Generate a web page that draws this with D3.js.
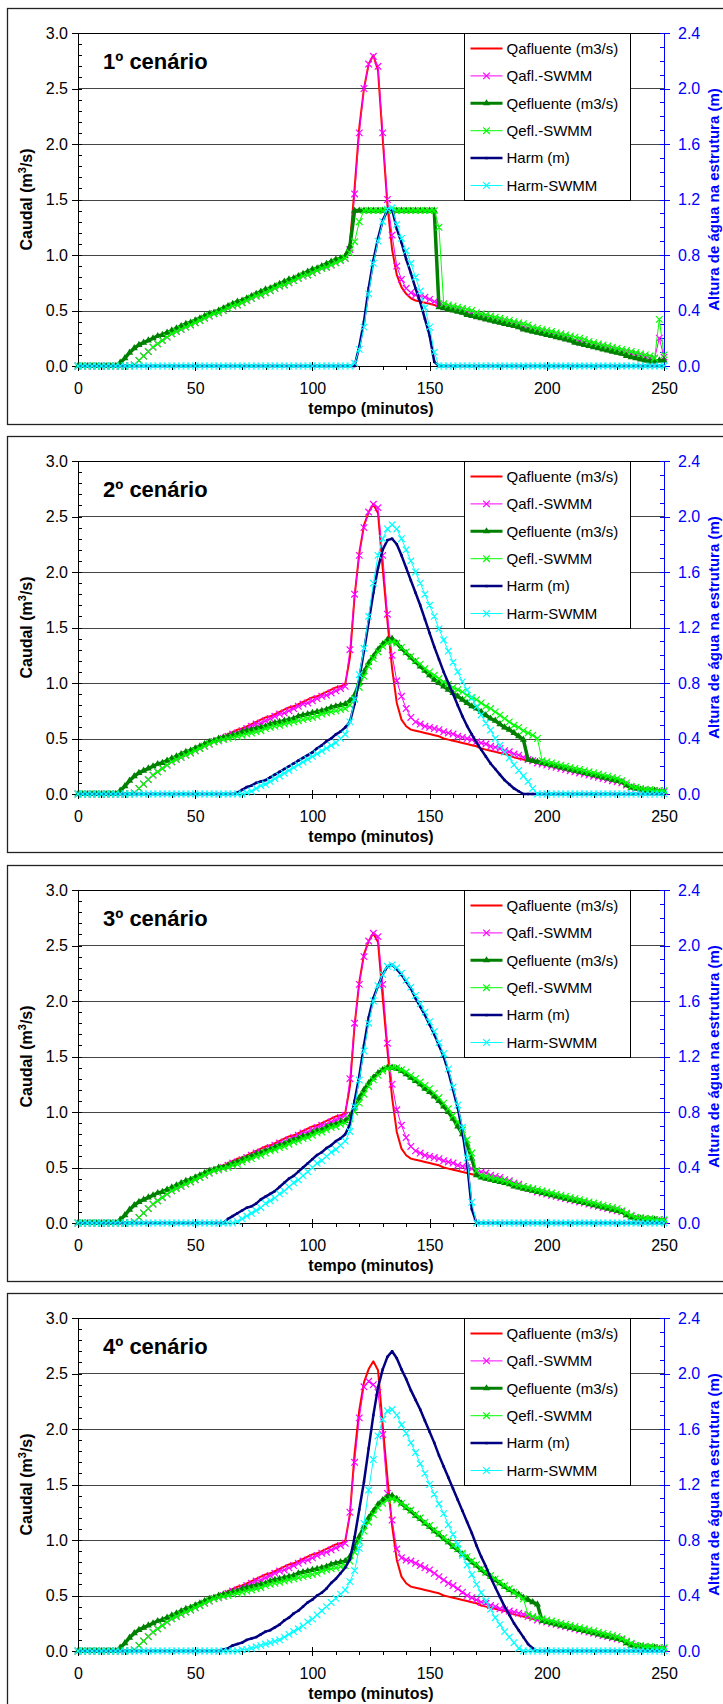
<!DOCTYPE html>
<html>
<head>
<meta charset="utf-8">
<script src="https://cdn.jsdelivr.net/npm/d3@7"></script>
<style>
  body { margin: 0; background: #fff; }
  svg text { font-family: "Liberation Sans", Arial, Helvetica, sans-serif; }
</style>
</head>
<body>
<div id="chart"></div>
<script>
// tempo em minutos (passo de 2 min)
var tempo = [
  0,2,4,6,8,10,12,14,16,18,
  20,22,24,26,28,30,32,34,36,38,
  40,42,44,46,48,50,52,54,56,58,
  60,62,64,66,68,70,72,74,76,78,
  80,82,84,86,88,90,92,94,96,98,
  100,102,104,106,108,110,112,114,116,118,
  120,122,124,126,128,130,132,134,136,138,
  140,142,144,146,148,150,152,154,156,158,
  160,162,164,166,168,170,172,174,176,178,
  180,182,184,186,188,190,192,194,196,198,
  200,202,204,206,208,210,212,214,216,218,
  220,222,224,226,228,230,232,234,236,238,
  240,242,244,246,248,250];

var xTicks = [0, 50, 100, 150, 200, 250];
var qTicks = [0, 0.5, 1.0, 1.5, 2.0, 2.5, 3.0];
var hTicks = [0, 0.4, 0.8, 1.2, 1.6, 2.0, 2.4];

// ramo ascendente comum, t = 0..114
var rampaQ = [
  0,0,0,0,0,0,0,0,0,0.03,
  0.07,0.12,0.16,0.19,0.21,0.23,0.25,0.27,0.28,0.30,
  0.32,0.34,0.36,0.38,0.39,0.41,0.43,0.45,0.47,0.48,
  0.50,0.52,0.54,0.56,0.58,0.59,0.61,0.63,0.65,0.67,
  0.69,0.70,0.72,0.74,0.76,0.78,0.79,0.81,0.83,0.85,
  0.87,0.88,0.90,0.92,0.94,0.96,0.97,0.99];
var rampaS = [
  0,0,0,0,0,0,0,0,0,0,
  0,0,0.01,0.05,0.09,0.13,0.17,0.20,0.23,0.26,
  0.29,0.31,0.33,0.35,0.37,0.39,0.41,0.43,0.45,0.47,
  0.48,0.50,0.52,0.54,0.55,0.57,0.59,0.61,0.63,0.64,
  0.66,0.68,0.70,0.72,0.73,0.75,0.77,0.79,0.81,0.82,
  0.84,0.86,0.88,0.89,0.91,0.93,0.95,0.97];

// t = 116..250
var qaf1Pico = [
  1.10,1.60,
  2.15,2.50,2.72,2.80,2.66,2.05,1.45,1.05,0.82,0.71,
  0.65,0.61,0.59,0.58,0.57,0.56,0.55,0.53,0.52,0.51,
  0.50,0.49,0.48,0.46,0.45,0.44,0.43,0.42,0.41,0.40,
  0.39,0.38,0.37,0.36,0.35,0.33,0.32,0.31,0.30,0.29,
  0.28,0.27,0.26,0.25,0.24,0.23,0.21,0.20,0.19,0.18,
  0.17,0.16,0.15,0.14,0.13,0.12,0.11,0.09,0.08,0.07,
  0.06,0.05,0.04,0.04,0.05,0.05];
var qafS1Pico = [
  1.05,1.55,
  2.10,2.50,2.72,2.79,2.70,2.10,1.50,1.18,0.90,0.78,
  0.70,0.66,0.64,0.63,0.62,0.60,0.58,0.56,0.54,0.53,
  0.52,0.51,0.50,0.48,0.47,0.46,0.45,0.44,0.43,0.42,
  0.41,0.40,0.39,0.38,0.37,0.35,0.34,0.33,0.32,0.31,
  0.30,0.29,0.28,0.27,0.26,0.25,0.23,0.22,0.21,0.20,
  0.19,0.18,0.17,0.16,0.15,0.14,0.13,0.12,0.11,0.10,
  0.09,0.08,0.07,0.07,0.25,0.08];
var qef1Pico = [
  1.08,1.40,
  1.40,1.40,1.40,1.40,1.40,1.40,1.40,1.40,1.40,1.40,
  1.40,1.40,1.40,1.40,1.40,1.40,1.40,0.53,0.52,0.51,
  0.50,0.49,0.48,0.46,0.45,0.44,0.43,0.42,0.41,0.40,
  0.39,0.38,0.37,0.36,0.35,0.33,0.32,0.31,0.30,0.29,
  0.28,0.27,0.26,0.25,0.24,0.23,0.21,0.20,0.19,0.18,
  0.17,0.16,0.15,0.14,0.13,0.12,0.11,0.09,0.08,0.07,
  0.06,0.05,0.04,0.04,0.05,0.05];
var qefS1Pico = [
  1.02,1.12,
  1.30,1.40,1.40,1.40,1.40,1.40,1.40,1.40,1.40,1.40,
  1.40,1.40,1.40,1.40,1.40,1.40,1.40,1.25,0.56,0.55,
  0.54,0.53,0.52,0.51,0.50,0.48,0.47,0.46,0.45,0.44,
  0.43,0.42,0.41,0.40,0.39,0.38,0.37,0.35,0.34,0.33,
  0.32,0.31,0.30,0.29,0.28,0.27,0.26,0.25,0.24,0.22,
  0.21,0.20,0.19,0.18,0.17,0.16,0.15,0.14,0.13,0.12,
  0.11,0.10,0.09,0.07,0.42,0.10];
var harm1 = [
  0,0,0,0,0,0,0,0,0,0,
  0,0,0,0,0,0,0,0,0,0,
  0,0,0,0,0,0,0,0,0,0,
  0,0,0,0,0,0,0,0,0,0,
  0,0,0,0,0,0,0,0,0,0,
  0,0,0,0,0,0,0,0,0,0,
  0.14,0.32,0.56,0.76,0.92,1.05,1.12,1.13,0.99,0.89,
  0.77,0.67,0.56,0.46,0.34,0.22,0.03,0,0,0,
  0,0,0,0,0,0,0,0,0,0,
  0,0,0,0,0,0,0,0,0,0,
  0,0,0,0,0,0,0,0,0,0,
  0,0,0,0,0,0,0,0,0,0,
  0,0,0,0,0,0];
var harmS1 = [
  0,0,0,0,0,0,0,0,0,0,
  0,0,0,0,0,0,0,0,0,0,
  0,0,0,0,0,0,0,0,0,0,
  0,0,0,0,0,0,0,0,0,0,
  0,0,0,0,0,0,0,0,0,0,
  0,0,0,0,0,0,0,0,0,0.02,
  0.12,0.28,0.52,0.74,0.90,1.04,1.13,1.14,1.02,0.92,
  0.83,0.74,0.64,0.54,0.42,0.28,0.10,0,0,0,
  0,0,0,0,0,0,0,0,0,0,
  0,0,0,0,0,0,0,0,0,0,
  0,0,0,0,0,0,0,0,0,0,
  0,0,0,0,0,0,0,0,0,0,
  0,0,0,0,0,0];

// cenarios 2 a 4, afluente t = 116..250
var qafPico = [
  1.23,1.78,
  2.17,2.42,2.54,2.61,2.53,2.03,1.56,1.13,0.82,0.67,
  0.61,0.58,0.57,0.56,0.55,0.54,0.53,0.52,0.50,0.49,
  0.48,0.47,0.46,0.45,0.44,0.43,0.41,0.40,0.39,0.38,
  0.37,0.36,0.35,0.33,0.32,0.31,0.30,0.29,0.28,0.27,
  0.26,0.25,0.24,0.23,0.22,0.21,0.20,0.19,0.18,0.17,
  0.16,0.15,0.14,0.13,0.12,0.11,0.10,0.07,0.05,0.04,
  0.04,0.03,0.03,0.03,0.02,0.02];
var qafSPico = [
  1.30,1.80,
  2.15,2.40,2.54,2.61,2.58,2.15,1.62,1.25,1.02,0.88,
  0.77,0.69,0.65,0.63,0.61,0.60,0.59,0.58,0.56,0.55,
  0.54,0.52,0.51,0.50,0.49,0.47,0.46,0.45,0.43,0.42,
  0.41,0.39,0.38,0.36,0.35,0.33,0.31,0.30,0.28,0.27,
  0.26,0.25,0.24,0.23,0.22,0.21,0.20,0.19,0.18,0.17,
  0.16,0.15,0.14,0.13,0.12,0.11,0.10,0.08,0.06,0.05,
  0.04,0.04,0.03,0.03,0.03,0.02];
var qafS4Pico = [
  1.25,1.70,
  2.10,2.38,2.43,2.40,2.33,1.95,1.42,1.18,0.92,0.84,
  0.82,0.81,0.79,0.77,0.75,0.73,0.70,0.67,0.64,0.61,
  0.59,0.56,0.53,0.50,0.48,0.46,0.44,0.43,0.41,0.40,
  0.38,0.37,0.36,0.35,0.34,0.33,0.31,0.30,0.28,0.27,
  0.26,0.25,0.24,0.23,0.22,0.21,0.20,0.19,0.18,0.17,
  0.16,0.15,0.14,0.13,0.12,0.11,0.10,0.08,0.06,0.05,
  0.04,0.04,0.03,0.03,0.03,0.02];

// efluentes, t = 62..250
var qef2 = [
  0.51,0.52,0.53,0.54,0.56,0.57,0.58,0.59,0.60,
  0.61,0.63,0.64,0.65,0.66,0.67,0.68,0.70,0.71,0.72,
  0.73,0.74,0.75,0.76,0.78,0.79,0.80,0.81,0.84,0.89,
  1.00,1.10,1.18,1.24,1.30,1.35,1.39,1.40,1.36,1.31,
  1.27,1.23,1.19,1.15,1.11,1.07,1.03,1.00,0.97,0.94,
  0.91,0.88,0.85,0.82,0.79,0.77,0.74,0.71,0.68,0.66,
  0.63,0.60,0.58,0.55,0.52,0.49,0.31,0.30,0.29,0.28,
  0.27,0.26,0.25,0.24,0.23,0.22,0.21,0.20,0.19,0.18,
  0.17,0.16,0.15,0.14,0.13,0.12,0.11,0.08,0.06,0.05,
  0.04,0.03,0.03,0.03,0.02,0.02];
var qefS2 = [
  0.49,0.50,0.51,0.52,0.53,0.54,0.55,0.56,0.57,
  0.59,0.60,0.61,0.62,0.63,0.64,0.65,0.66,0.67,0.68,
  0.69,0.70,0.72,0.73,0.74,0.75,0.76,0.77,0.80,0.86,
  0.96,1.06,1.15,1.22,1.28,1.33,1.36,1.37,1.36,1.32,
  1.28,1.24,1.20,1.17,1.13,1.10,1.07,1.04,1.01,0.99,
  0.96,0.94,0.92,0.89,0.87,0.85,0.82,0.79,0.77,0.74,
  0.71,0.68,0.65,0.62,0.60,0.57,0.55,0.53,0.50,0.30,
  0.29,0.28,0.27,0.26,0.25,0.24,0.23,0.22,0.21,0.20,
  0.19,0.18,0.17,0.16,0.15,0.14,0.12,0.10,0.07,0.06,
  0.05,0.04,0.04,0.03,0.03,0.03];
var qef3 = [
  0.50,0.52,0.53,0.55,0.57,0.58,0.60,0.62,0.63,
  0.65,0.66,0.68,0.70,0.71,0.73,0.75,0.76,0.78,0.79,
  0.81,0.83,0.84,0.86,0.88,0.89,0.91,0.92,0.96,1.04,
  1.13,1.20,1.26,1.31,1.35,1.38,1.40,1.40,1.39,1.37,
  1.34,1.31,1.28,1.25,1.21,1.18,1.14,1.10,1.05,1.00,
  0.94,0.87,0.80,0.71,0.58,0.43,0.41,0.40,0.39,0.38,
  0.37,0.36,0.35,0.33,0.32,0.31,0.30,0.29,0.28,0.27,
  0.26,0.25,0.24,0.23,0.22,0.21,0.20,0.19,0.18,0.17,
  0.16,0.15,0.14,0.13,0.12,0.11,0.10,0.07,0.05,0.04,
  0.04,0.03,0.03,0.03,0.02,0.02];
var qefS3 = [
  0.49,0.50,0.52,0.53,0.55,0.57,0.58,0.60,0.61,
  0.63,0.65,0.66,0.68,0.69,0.71,0.73,0.74,0.76,0.77,
  0.79,0.81,0.82,0.84,0.86,0.87,0.89,0.90,0.94,1.00,
  1.08,1.16,1.23,1.29,1.33,1.37,1.39,1.40,1.40,1.38,
  1.36,1.33,1.30,1.27,1.24,1.21,1.17,1.13,1.08,1.03,
  0.97,0.91,0.84,0.75,0.63,0.47,0.43,0.42,0.41,0.40,
  0.39,0.38,0.37,0.35,0.34,0.33,0.32,0.31,0.30,0.29,
  0.28,0.27,0.26,0.25,0.24,0.23,0.22,0.21,0.20,0.19,
  0.18,0.17,0.16,0.15,0.14,0.13,0.11,0.09,0.07,0.05,
  0.05,0.04,0.04,0.03,0.03,0.03];
var qef4 = [
  0.51,0.52,0.53,0.54,0.56,0.57,0.58,0.59,0.60,
  0.61,0.63,0.64,0.65,0.66,0.67,0.68,0.70,0.71,0.72,
  0.73,0.74,0.75,0.76,0.78,0.79,0.80,0.81,0.85,0.93,
  1.03,1.12,1.20,1.26,1.32,1.36,1.39,1.40,1.37,1.33,
  1.29,1.26,1.22,1.19,1.15,1.12,1.08,1.05,1.01,0.98,
  0.94,0.91,0.87,0.84,0.80,0.77,0.73,0.70,0.67,0.64,
  0.61,0.58,0.55,0.53,0.51,0.48,0.46,0.44,0.42,0.27,
  0.26,0.25,0.24,0.23,0.22,0.21,0.20,0.19,0.18,0.17,
  0.16,0.15,0.14,0.13,0.12,0.11,0.10,0.07,0.05,0.04,
  0.04,0.03,0.03,0.03,0.02,0.02];
var qefS4 = [
  0.49,0.50,0.51,0.52,0.53,0.54,0.55,0.56,0.57,
  0.59,0.60,0.61,0.62,0.63,0.64,0.65,0.66,0.67,0.68,
  0.69,0.70,0.72,0.73,0.74,0.75,0.76,0.77,0.81,0.89,
  0.99,1.08,1.16,1.23,1.29,1.33,1.36,1.37,1.36,1.33,
  1.30,1.27,1.23,1.20,1.16,1.13,1.09,1.06,1.02,0.99,
  0.95,0.92,0.88,0.85,0.81,0.78,0.74,0.71,0.68,0.65,
  0.62,0.59,0.56,0.53,0.50,0.47,0.33,0.31,0.30,0.29,
  0.28,0.27,0.26,0.25,0.24,0.23,0.22,0.21,0.20,0.19,
  0.18,0.17,0.16,0.15,0.14,0.13,0.11,0.09,0.07,0.05,
  0.05,0.04,0.04,0.03,0.03,0.03];

// alturas de agua (m), t = 0..250
var harm2 = [
  0,0,0,0,0,0,0,0,0,0,
  0,0,0,0,0,0,0,0,0,0,
  0,0,0,0,0,0,0,0,0,0,
  0,0,0,0,0.01,0.03,0.05,0.06,0.08,0.09,
  0.10,0.12,0.14,0.16,0.18,0.20,0.22,0.24,0.26,0.28,
  0.30,0.33,0.35,0.38,0.40,0.43,0.45,0.48,0.52,0.65,
  0.83,1.03,1.24,1.45,1.63,1.76,1.83,1.84,1.80,1.72,
  1.63,1.54,1.45,1.36,1.26,1.16,1.06,0.97,0.88,0.80,
  0.72,0.64,0.56,0.49,0.43,0.37,0.32,0.27,0.22,0.18,
  0.14,0.10,0.07,0.04,0.02,0,0,0,0,0,
  0,0,0,0,0,0,0,0,0,0,
  0,0,0,0,0,0,0,0,0,0,
  0,0,0,0,0,0];
var harmS2 = [
  0,0,0,0,0,0,0,0,0,0,
  0,0,0,0,0,0,0,0,0,0,
  0,0,0,0,0,0,0,0,0,0,
  0,0,0,0,0,0,0.01,0.02,0.04,0.06,
  0.07,0.09,0.11,0.13,0.15,0.17,0.19,0.21,0.23,0.25,
  0.27,0.29,0.31,0.33,0.35,0.37,0.40,0.43,0.52,0.68,
  0.86,1.05,1.28,1.52,1.72,1.84,1.91,1.94,1.91,1.84,
  1.76,1.68,1.60,1.52,1.44,1.36,1.28,1.19,1.11,1.03,
  0.95,0.88,0.81,0.75,0.69,0.63,0.57,0.51,0.46,0.40,
  0.35,0.30,0.26,0.21,0.17,0.13,0.09,0.04,0,0,
  0,0,0,0,0,0,0,0,0,0,
  0,0,0,0,0,0,0,0,0,0,
  0,0,0,0,0,0];
var harm3 = [
  0,0,0,0,0,0,0,0,0,0,
  0,0,0,0,0,0,0,0,0,0,
  0,0,0,0,0,0,0,0,0,0,
  0,0,0.03,0.05,0.07,0.09,0.11,0.12,0.14,0.17,
  0.19,0.21,0.23,0.26,0.29,0.32,0.34,0.37,0.40,0.43,
  0.46,0.49,0.51,0.54,0.56,0.59,0.61,0.64,0.71,0.88,
  1.06,1.28,1.48,1.62,1.71,1.79,1.85,1.86,1.83,1.79,
  1.74,1.69,1.62,1.56,1.50,1.43,1.36,1.28,1.20,1.09,
  0.96,0.83,0.66,0.43,0.10,0,0,0,0,0,
  0,0,0,0,0,0,0,0,0,0,
  0,0,0,0,0,0,0,0,0,0,
  0,0,0,0,0,0,0,0,0,0,
  0,0,0,0,0,0];
var harmS3 = [
  0,0,0,0,0,0,0,0,0,0,
  0,0,0,0,0,0,0,0,0,0,
  0,0,0,0,0,0,0,0,0,0,
  0,0,0,0,0.01,0.03,0.05,0.07,0.09,0.11,
  0.14,0.16,0.18,0.21,0.23,0.26,0.29,0.31,0.34,0.37,
  0.40,0.43,0.45,0.48,0.51,0.53,0.56,0.59,0.66,0.84,
  1.03,1.24,1.44,1.60,1.71,1.79,1.85,1.86,1.84,1.80,
  1.75,1.70,1.64,1.58,1.52,1.45,1.38,1.30,1.22,1.11,
  0.98,0.85,0.69,0.47,0.15,0,0,0,0,0,
  0,0,0,0,0,0,0,0,0,0,
  0,0,0,0,0,0,0,0,0,0,
  0,0,0,0,0,0,0,0,0,0,
  0,0,0,0,0,0];
var harm4 = [
  0,0,0,0,0,0,0,0,0,0,
  0,0,0,0,0,0,0,0,0,0,
  0,0,0,0,0,0,0,0,0,0,
  0,0.01,0.02,0.04,0.05,0.06,0.08,0.09,0.10,0.12,
  0.14,0.15,0.17,0.19,0.22,0.24,0.27,0.29,0.32,0.35,
  0.37,0.40,0.42,0.45,0.49,0.52,0.56,0.60,0.66,0.82,
  1.02,1.22,1.46,1.70,1.90,2.03,2.12,2.16,2.11,2.03,
  1.96,1.88,1.81,1.74,1.66,1.58,1.50,1.41,1.33,1.25,
  1.17,1.09,1.01,0.93,0.85,0.76,0.68,0.61,0.53,0.46,
  0.39,0.32,0.26,0.20,0.15,0.10,0.05,0.02,0,0,
  0,0,0,0,0,0,0,0,0,0,
  0,0,0,0,0,0,0,0,0,0,
  0,0,0,0,0,0];
var harmS4 = [
  0,0,0,0,0,0,0,0,0,0,
  0,0,0,0,0,0,0,0,0,0,
  0,0,0,0,0,0,0,0,0,0,
  0,0,0,0,0,0.01,0.01,0.02,0.03,0.04,
  0.05,0.06,0.07,0.08,0.10,0.12,0.14,0.16,0.18,0.21,
  0.23,0.26,0.29,0.32,0.35,0.38,0.41,0.44,0.50,0.58,
  0.74,0.92,1.16,1.38,1.55,1.67,1.73,1.74,1.70,1.63,
  1.57,1.50,1.43,1.35,1.28,1.20,1.13,1.06,0.99,0.91,
  0.84,0.77,0.69,0.62,0.55,0.48,0.42,0.36,0.30,0.24,
  0.19,0.14,0.10,0.06,0.02,0,0,0,0,0,
  0,0,0,0,0,0,0,0,0,0,
  0,0,0,0,0,0,0,0,0,0,
  0,0,0,0,0,0];

var cenarios = [
  {titulo: "1º cenário", qaf: rampaQ.concat(qaf1Pico), qafS: rampaS.concat(qafS1Pico),
   qef: rampaQ.concat(qef1Pico), qefS: rampaS.concat(qefS1Pico), h: harm1, hS: harmS1},
  {titulo: "2º cenário", qaf: rampaQ.concat(qafPico), qafS: rampaS.concat(qafSPico),
   qef: rampaQ.slice(0, 31).concat(qef2), qefS: rampaS.slice(0, 31).concat(qefS2), h: harm2, hS: harmS2},
  {titulo: "3º cenário", qaf: rampaQ.concat(qafPico), qafS: rampaS.concat(qafSPico),
   qef: rampaQ.slice(0, 31).concat(qef3), qefS: rampaS.slice(0, 31).concat(qefS3), h: harm3, hS: harmS3},
  {titulo: "4º cenário", qaf: rampaQ.concat(qafPico), qafS: rampaS.concat(qafS4Pico),
   qef: rampaQ.slice(0, 31).concat(qef4), qefS: rampaS.slice(0, 31).concat(qefS4), h: harm4, hS: harmS4}
];

var series = [
  {nome: "Qafluente (m3/s)", chave: "qaf", cor: "#ff0000", largura: 2, marcador: null, eixo: "Q"},
  {nome: "Qafl.-SWMM", chave: "qafS", cor: "#ff00ff", largura: 1, marcador: "x", eixo: "Q"},
  {nome: "Qefluente (m3/s)", chave: "qef", cor: "#008000", largura: 3.5, marcador: "tri", eixo: "Q"},
  {nome: "Qefl.-SWMM", chave: "qefS", cor: "#00ff00", largura: 1, marcador: "x", eixo: "Q"},
  {nome: "Harm (m)", chave: "h", cor: "#000080", largura: 2.5, marcador: "dot", eixo: "H"},
  {nome: "Harm-SWMM", chave: "hS", cor: "#00ffff", largura: 1, marcador: "x", eixo: "H"}
];

var svgWidth = 723, svgHeight = 1704;
var plot = {left: 78, top: 25, width: 586, height: 333};

var svg = d3.select("#chart").append("svg")
  .attr("width", svgWidth)
  .attr("height", svgHeight);
svg.append("rect").attr("width", svgWidth).attr("height", svgHeight).attr("fill", "#fff");

var x = d3.scaleLinear().domain([0, 250]).range([0, plot.width]);
var yQ = d3.scaleLinear().domain([0, 3]).range([plot.height, 0]);
var yH = d3.scaleLinear().domain([0, 2.4]).range([plot.height, 0]);

var fmt1 = d3.format(".1f");
var xMinor = d3.range(0, 251, 10);
var qMinor = d3.range(0, 3.001, 0.1);
var hMinor = d3.range(0, 2.401, 0.1);

function marcaX(px, py, s) {
  return "M" + (px - s) + "," + (py - s) + "L" + (px + s) + "," + (py + s) +
         "M" + (px - s) + "," + (py + s) + "L" + (px + s) + "," + (py - s);
}

function desenhaMarcadores(g, pts, s) {
  if (s.marcador === "x") {
    g.append("path")
      .attr("d", pts.map(function(p) { return marcaX(p[0], p[1], 3.3); }).join(""))
      .attr("fill", "none").attr("stroke", s.cor).attr("stroke-width", 1.2);
  } else if (s.marcador === "tri") {
    var tri = d3.symbol().type(d3.symbolTriangle).size(22)();
    g.append("g").selectAll("path").data(pts).enter().append("path")
      .attr("d", tri)
      .attr("transform", function(p) { return "translate(" + p[0] + "," + p[1] + ")"; })
      .attr("fill", s.cor);
  } else if (s.marcador === "dot") {
    g.append("g").selectAll("rect").data(pts).enter().append("rect")
      .attr("x", function(p) { return p[0] - 1.2; })
      .attr("y", function(p) { return p[1] - 1.2; })
      .attr("width", 2.4).attr("height", 2.4)
      .attr("fill", s.cor);
  }
}

cenarios.forEach(function(c, i) {
  var top = 8 + Math.round(i * 428.4);
  var g = svg.append("g").attr("transform", "translate(0," + top + ")");

  // moldura
  g.append("rect")
    .attr("x", 7.5).attr("y", 0.5)
    .attr("width", 740).attr("height", 416)
    .attr("fill", "none").attr("stroke", "#222").attr("stroke-width", 1.3);

  var chart = g.append("g").attr("transform", "translate(" + plot.left + "," + plot.top + ")");

  // linhas de grelha
  chart.selectAll(".grid").data(qTicks.slice(1)).enter().append("line")
    .attr("x1", 0).attr("x2", plot.width)
    .attr("y1", function(d) { return Math.round(yQ(d)) + 0.5; })
    .attr("y2", function(d) { return Math.round(yQ(d)) + 0.5; })
    .attr("stroke", function(d) { return d === 3 ? "#000" : "#444"; })
    .attr("stroke-width", 1);

  // eixo x
  var ax = chart.append("g").attr("transform", "translate(0," + plot.height + ")")
    .call(d3.axisBottom(x).tickValues(xTicks).tickSize(5).tickSizeOuter(0).tickPadding(12).tickFormat(d3.format("d")));
  ax.selectAll("text").attr("font-size", 16).attr("fill", "#000");
  chart.append("g").attr("transform", "translate(0," + plot.height + ")")
    .call(d3.axisBottom(x).tickValues(xMinor).tickSize(4).tickFormat(""))
    .select(".domain").remove();
  chart.append("g").attr("transform", "translate(0," + plot.height + ")")
    .call(d3.axisTop(x).tickValues(xTicks).tickSize(4).tickFormat(""))
    .select(".domain").remove();

  // eixo esquerdo (caudal)
  var ay = chart.append("g")
    .call(d3.axisLeft(yQ).tickValues(qTicks).tickSize(6).tickSizeOuter(0).tickPadding(4).tickFormat(fmt1));
  ay.selectAll("text").attr("font-size", 16).attr("fill", "#000");
  chart.append("g")
    .call(d3.axisRight(yQ).tickValues(qMinor).tickSize(4).tickFormat(""))
    .select(".domain").remove();

  // eixo direito (altura)
  var ar = chart.append("g").attr("transform", "translate(" + plot.width + ",0)")
    .call(d3.axisRight(yH).tickValues(hTicks).tickSize(6).tickSizeOuter(0).tickPadding(8).tickFormat(fmt1));
  ar.selectAll("line, path").attr("stroke", "#0000ff");
  ar.select(".domain").attr("stroke-width", 1.5);
  ar.selectAll("text").attr("font-size", 16).attr("fill", "#0000ff");
  var arMin = chart.append("g").attr("transform", "translate(" + plot.width + ",0)")
    .call(d3.axisLeft(yH).tickValues(hMinor).tickSize(4).tickFormat(""));
  arMin.select(".domain").remove();
  arMin.selectAll("line").attr("stroke", "#0000ff");

  chart.selectAll(".domain, .tick line").attr("shape-rendering", "crispEdges");

  // series
  series.forEach(function(s) {
    var yS = s.eixo === "Q" ? yQ : yH;
    var valores = c[s.chave].slice(0, tempo.length);
    var pts = valores.map(function(v, k) { return [x(tempo[k]), yS(v)]; });
    chart.append("path")
      .attr("d", d3.line()(pts))
      .attr("fill", "none")
      .attr("stroke", s.cor)
      .attr("stroke-width", s.largura)
      .attr("stroke-linejoin", "round");
    desenhaMarcadores(chart, pts, s);
  });

  // legenda
  var leg = g.append("g").attr("transform", "translate(464.5," + (plot.top + 0.5) + ")");
  leg.append("rect").attr("width", 166).attr("height", 167)
    .attr("fill", "#fff").attr("stroke", "#000").attr("stroke-width", 1);
  series.forEach(function(s, k) {
    var ly = 15 + k * 27.4;
    var row = leg.append("g");
    row.append("line").attr("x1", 6).attr("x2", 38).attr("y1", ly).attr("y2", ly)
      .attr("stroke", s.cor).attr("stroke-width", Math.min(s.largura, 3));
    desenhaMarcadores(row, [[22, ly]], s);
    row.append("text").attr("x", 42).attr("y", ly).attr("dy", "0.35em")
      .attr("font-size", 15).attr("fill", "#000").text(s.nome);
  });

  // titulos
  g.append("text").attr("x", 103).attr("y", 61)
    .attr("font-size", 22).attr("font-weight", "bold").text(c.titulo);

  var yt = g.append("text")
    .attr("transform", "translate(32," + (plot.top + plot.height / 2) + ") rotate(-90)")
    .attr("text-anchor", "middle").attr("font-size", 16).attr("font-weight", "bold");
  yt.append("tspan").text("Caudal (m");
  yt.append("tspan").attr("dy", -6).attr("font-size", 11).text("3");
  yt.append("tspan").attr("dy", 6).text("/s)");

  // titulo do eixo direito, encostado a margem como no original
  g.append("text")
    .attr("transform", "translate(719," + (plot.top + plot.height / 2) + ") rotate(-90)")
    .attr("text-anchor", "middle").attr("font-size", 15).attr("font-weight", "bold")
    .attr("fill", "#0000ff").text("Altura de água na estrutura (m)");

  g.append("text").attr("x", plot.left + plot.width / 2).attr("y", 406)
    .attr("text-anchor", "middle").attr("font-size", 16).attr("font-weight", "bold")
    .text("tempo (minutos)");
});
</script>
</body>
</html>
